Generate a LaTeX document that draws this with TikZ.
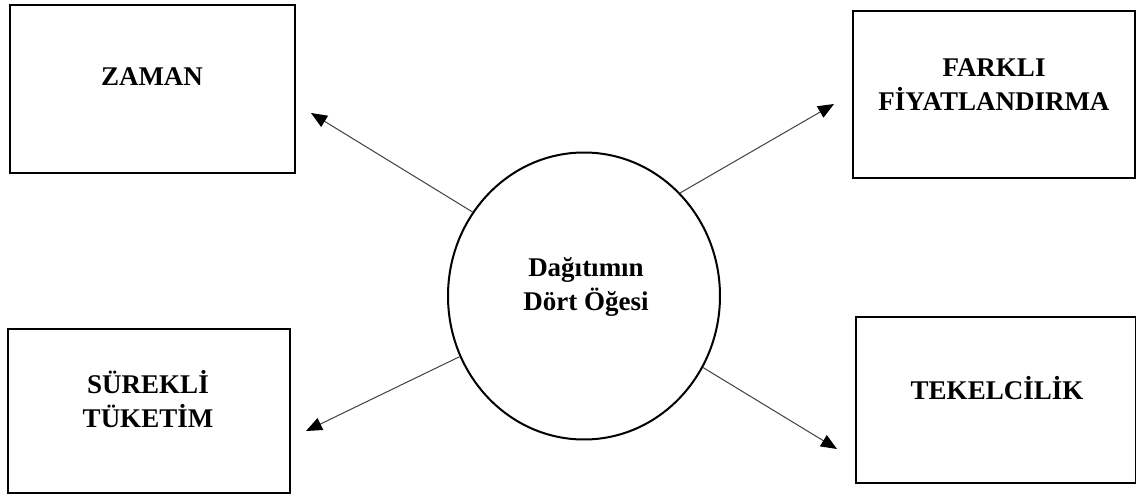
\documentclass[tikz,border=0pt]{standalone}
\usepackage{fontspec}
\setmainfont{Liberation Serif}
\usetikzlibrary{arrows.meta,shapes.geometric}
\begin{document}
\begin{tikzpicture}[x=1pt,y=-1pt,
  box/.style={draw=black,line width=2.4pt,rectangle,inner sep=0pt},
  lbl/.style={inner sep=0pt,align=center,font=\fontsize{27}{34}\selectfont\bfseries},
  arr/.style={draw=black!75,line width=1pt,-{Triangle[length=16pt,width=13pt,color=black]}}]
\useasboundingbox (0,0) rectangle (1136,495);
% center ellipse
\node[draw=black,line width=2pt,ellipse,minimum width=272pt,minimum height=287pt,inner sep=0pt] (c) at (584,296) {};
\node[lbl] (ct) at (586,287) {Dağıtımın\\Dört Öğesi};
% boxes
\node[box,minimum width=285pt,minimum height=168pt] (b1) at (152.5,89) {};
\node[lbl,anchor=base] (l1) at (152,86) {ZAMAN};
\node[box,minimum width=282pt,minimum height=167pt] (b2) at (994,94.5) {};
\node[lbl] (l2) at (994,84.5) {FARKLI\\FİYATLANDIRMA};
\node[box,minimum width=282pt,minimum height=164pt] (b3) at (149,411) {};
\node[lbl] (l3) at (148,399) {SÜREKLİ\\TÜKETİM};
\node[box,minimum width=280pt,minimum height=166pt] (b4) at (996,400) {};
\node[lbl,anchor=base] (l4) at (997,399) {TEKELCİLİK};
% arrow tips
\coordinate (t1) at (311,113);
\coordinate (t2) at (834,104);
\coordinate (t3) at (306,431);
\coordinate (t4) at (837,449);
\draw[arr] (c.143) -- (t1);
\draw[arr] (c.47.5) -- (t2);
\draw[arr] (c.206) -- (t3);
\draw[arr] (c.329) -- (t4);
\end{tikzpicture}
\end{document}
